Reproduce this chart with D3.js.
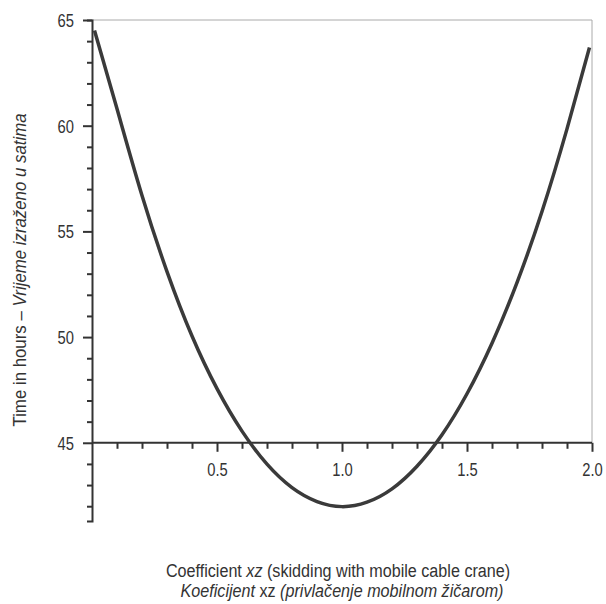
<!DOCTYPE html>
<html><head><meta charset="utf-8">
<script src="https://cdn.jsdelivr.net/npm/d3@7"></script>
<style>
body{margin:0;background:#fff;}
text{font-family:"Liberation Sans",Arial,sans-serif;fill:#333;}
</style></head>
<body><svg id="c" width="606" height="604"></svg>
<script>
// Data
const xValues = [0.01, 0.1, 0.2, 0.3, 0.4, 0.5, 0.6, 0.7, 0.8, 0.9, 1.0, 1.1, 1.2, 1.3, 1.4, 1.5, 1.6, 1.7, 1.8, 1.9, 1.99];
const timeHours = [64.5, 60.8, 56.7, 53.1, 50.05, 47.56, 45.55, 43.99, 42.88, 42.22, 41.98, 42.19, 42.82, 43.89, 45.38, 47.32, 49.71, 52.58, 55.94, 59.85, 63.7];
const yTicks = [42,43,44,45,46,47,48,49,50,51,52,53,54,55,56,57,58,59,60,61,62,63,64,65];
const yLabels = [45, 50, 55, 60, 65];
const xTicks = [0.1,0.2,0.3,0.4,0.5,0.6,0.7,0.8,0.9,1.0,1.1,1.2,1.3,1.4,1.5,1.6,1.7,1.8,1.9,2.0];
const xLabels = [0.5, 1.0, 1.5, 2.0];

const svg = d3.select("#c");
const x = d3.scaleLinear().domain([0, 2]).range([92, 592]);
const y = d3.scaleLinear().domain([41.3, 65]).range([521, 20]);
const ink = "#333";
const narrow = 0.82;

// frame (top & right)
svg.append("line").attr("x1", x(0)).attr("x2", x(2)).attr("y1", y(65)).attr("y2", y(65))
  .attr("stroke", "#aaa").attr("stroke-width", 1);
svg.append("line").attr("x1", x(2)).attr("x2", x(2)).attr("y1", y(65)).attr("y2", y(45))
  .attr("stroke", "#aaa").attr("stroke-width", 1);

// y axis
const isMajorY = v => yLabels.includes(v);
const yAxis = svg.append("g").attr("transform", `translate(${x(0)},0)`)
  .call(d3.axisLeft(y).tickValues(yTicks).tickSize(5).tickPadding(10)
    .tickFormat(v => isMajorY(v) ? d3.format("d")(v) : ""));
yAxis.attr("font-family", null).attr("font-size", null);
yAxis.select(".domain").attr("stroke", ink).attr("stroke-width", 2);
yAxis.selectAll(".tick line").attr("stroke", ink).attr("stroke-width", 2)
  .attr("x2", d => isMajorY(d) ? -9 : -5);
yAxis.selectAll(".tick text").attr("x", null).attr("dy", null)
  .attr("transform", `translate(-18,6.5) scale(${narrow},1)`)
  .style("font-size", "18px").attr("fill", ink);

// x axis at 45
const isMajorX = v => xLabels.some(l => Math.abs(l - v) < 1e-9);
const xAxis = svg.append("g").attr("transform", `translate(0,${y(45)})`)
  .call(d3.axisBottom(x).tickValues(xTicks).tickSize(6).tickPadding(12)
    .tickFormat(v => isMajorX(v) ? d3.format(".1f")(v) : ""));
xAxis.attr("font-family", null).attr("font-size", null);
xAxis.select(".domain").attr("stroke", ink).attr("stroke-width", 2).attr("d", `M${x(0)},0H${x(2)}`);
xAxis.selectAll(".tick line").attr("stroke", ink).attr("stroke-width", 2)
  .attr("y2", d => isMajorX(d) ? 9 : 6);
xAxis.selectAll(".tick text").attr("y", null).attr("dy", null)
  .attr("transform", `translate(0,33) scale(${narrow},1)`)
  .style("font-size", "18px").attr("fill", ink);

// curve
const pts = xValues.map((v, i) => [v, timeHours[i]]);
svg.append("path").datum(pts)
  .attr("fill", "none").attr("stroke", "#3a3a3a").attr("stroke-width", 3.5)
  .attr("stroke-linecap", "butt")
  .attr("d", d3.line().x(d => x(d[0])).y(d => y(d[1])).curve(d3.curveNatural));

// y label
const yl = svg.append("text").attr("transform", "translate(26,270) rotate(-90) scale(0.885,1)")
  .attr("text-anchor", "middle").style("font-size", "19px");
yl.append("tspan").text("Time in hours – ");
yl.append("tspan").style("font-style", "italic").text("Vrijeme izraženo u satima");

// x label
const xl1 = svg.append("text").attr("transform", "translate(338,577) scale(0.85,1)")
  .attr("text-anchor", "middle").style("font-size", "19px");
xl1.append("tspan").text("Coefficient ");
xl1.append("tspan").style("font-style", "italic").text("xz");
xl1.append("tspan").text(" (skidding with mobile cable crane)");
const xl2 = svg.append("text").attr("transform", "translate(342,597) scale(0.85,1)")
  .attr("text-anchor", "middle").style("font-size", "19px");
xl2.append("tspan").style("font-style", "italic").text("Koeficijent ");
xl2.append("tspan").text("xz");
xl2.append("tspan").style("font-style", "italic").text(" (privlačenje mobilnom žičarom)");
</script></body></html>
